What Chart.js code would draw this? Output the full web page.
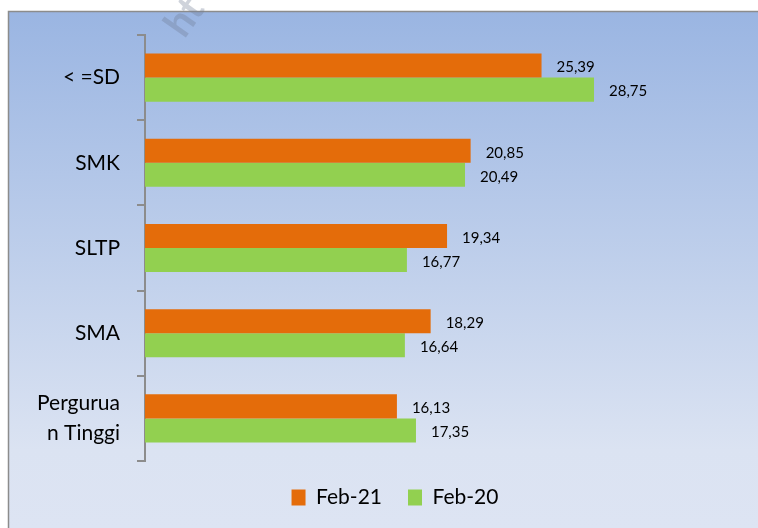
<!DOCTYPE html>
<html>
<head>
<meta charset="utf-8">
<script src="https://cdn.jsdelivr.net/npm/chart.js@4"></script>
<style>
html,body{margin:0;padding:0;background:#fff;}
#wrap{width:758px;height:528px;position:relative;}
</style>
</head>
<body>
<div id="wrap"><canvas id="c" width="758" height="528"></canvas></div>
<script>
const categories = ['< =SD', 'SMK', 'SLTP', 'SMA', ['Pergurua', 'n Tinggi']];
const feb21 = [25.39, 20.85, 19.34, 18.29, 16.13];
const feb20 = [28.75, 20.49, 16.77, 16.64, 17.35];
const seriesNames = ['Feb-21', 'Feb-20'];
const xMin = 0, xMax = 39.25;

const FONT = 'Lato, "Open Sans", sans-serif';

const bgPlugin = {
  id: 'bg',
  beforeDraw(chart) {
    const ctx = chart.ctx;
    ctx.save();
    ctx.fillStyle = '#ffffff';
    ctx.fillRect(0, 0, chart.width, chart.height);
    const g = ctx.createLinearGradient(0, 11, 0, chart.height);
    g.addColorStop(0, '#9ab5e2');
    g.addColorStop(0.85, '#dbe3f2');
    g.addColorStop(1, '#dde4f3');
    ctx.fillStyle = g;
    ctx.fillRect(8, 11, chart.width, chart.height);
    ctx.strokeStyle = '#8c8c8c';
    ctx.lineWidth = 1.5;
    ctx.beginPath();
    ctx.moveTo(8.5, chart.height + 2);
    ctx.lineTo(8.5, 11.5);
    ctx.lineTo(chart.width + 2, 11.5);
    ctx.stroke();
    ctx.restore();
  },
  afterDraw(chart) {
    const ctx = chart.ctx;
    ctx.save();
    ctx.translate(174, 32);
    ctx.rotate(-55 * Math.PI / 180);
    ctx.font = 'bold 40px ' + FONT;
    ctx.fillStyle = 'rgba(110,120,145,0.33)';
    ctx.textBaseline = 'middle';
    ctx.fillText('ht', 0, 0);
    ctx.restore();
  }
};

const labelPlugin = {
  id: 'vals',
  afterDatasetsDraw(chart) {
    const ctx = chart.ctx;
    ctx.save();
    ctx.font = '15px ' + FONT;
    ctx.fillStyle = '#000';
    ctx.textAlign = 'left';
    ctx.textBaseline = 'middle';
    chart.data.datasets.forEach((ds, i) => {
      chart.getDatasetMeta(i).data.forEach((bar, j) => {
        const v = ds.data[j];
        ctx.fillText(v.toFixed(2).replace('.', ','), bar.x + 15, bar.y + 2);
      });
    });
    ctx.restore();
  }
};

new Chart(document.getElementById('c'), {
  type: 'bar',
  data: {
    labels: categories,
    datasets: [
      { label: seriesNames[0], data: feb21, backgroundColor: '#e46c0a', borderWidth: 0 },
      { label: seriesNames[1], data: feb20, backgroundColor: '#92d050', borderWidth: 0 }
    ]
  },
  options: {
    indexAxis: 'y',
    responsive: false,
    animation: false,
    devicePixelRatio: 1,
    layout: { padding: { top: 35, right: 0, left: 32, bottom: 10 } },
    datasets: { bar: { categoryPercentage: 0.565, barPercentage: 1.0 } },
    scales: {
      x: { display: false, min: xMin, max: xMax },
      y: {
        afterFit(scale) { scale.width = 113; scale.paddingTop = 0; scale.paddingBottom = 0; },
        grid: { drawOnChartArea: false, drawTicks: true, tickLength: 8, color: '#8c8c8c', lineWidth: 2, offset: true },
        border: { display: true, color: '#8c8c8c', width: 2 },
        ticks: { color: '#000', font: { family: FONT, size: 21, lineHeight: 1.45 }, padding: 17 }
      }
    },
    plugins: {
      legend: {
        position: 'bottom',
        labels: {
          color: '#000',
          font: { family: FONT, size: 21 },
          boxWidth: 14, boxHeight: 16,
          padding: 26,
          useBorderRadius: false
        }
      },
      tooltip: { enabled: false }
    }
  },
  plugins: [bgPlugin, labelPlugin]
});
</script>
</body>
</html>
